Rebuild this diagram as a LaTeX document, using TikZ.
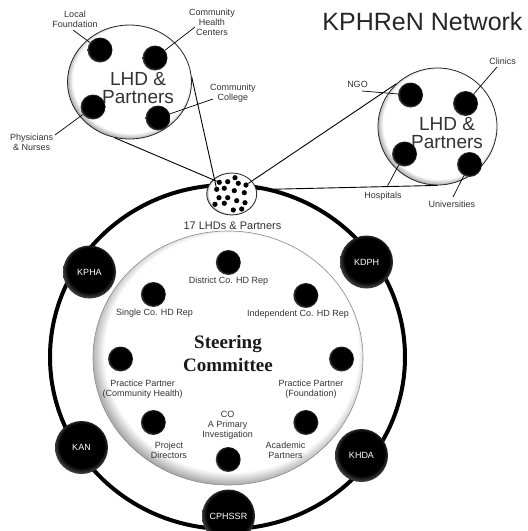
\documentclass[tikz,border=0pt]{standalone}
\usepackage{fontspec}
\setmainfont{Liberation Sans}
\newfontfamily\serifbf{Liberation Serif}
\usetikzlibrary{shapes.geometric}
\pgfdeclareradialshading{rimshade}{\pgfpoint{1.2bp}{2bp}}{color(0bp)=(white); color(23.5bp)=(white); color(25.5bp)=(black!28); color(27.5bp)=(black!55); color(50bp)=(black!55)}
\pgfdeclareradialshading{dotshade}{\pgfpoint{0.5bp}{3bp}}{color(0bp)=(black); color(21bp)=(black); color(25bp)=(black!78); color(28bp)=(black!70); color(50bp)=(black!70)}
\definecolor{txt}{HTML}{333333}
\begin{document}
\begin{tikzpicture}[x=1pt,y=-1pt,
 bigcirc/.style={ellipse, draw=black!85, line width=0.8pt, shading=rimshade, inner sep=0pt},
 dot/.style={circle, shading=dotshade, minimum size=25pt, inner sep=0pt},
 hub/.style={circle, shading=dotshade, minimum size=53pt, inner sep=0pt, text=white, font=\fontsize{9}{10}\selectfont},
 sdot/.style={circle, fill=black, minimum size=5.2pt, inner sep=0pt},
 lbl/.style={text=txt, font=\fontsize{9}{10}\selectfont, align=center, inner sep=0pt},
 lead/.style={black, line width=0.7pt},
 conn/.style={black, line width=0.9pt},
 bigtxt/.style={text=txt, font=\fontsize{19}{17.5}\selectfont, align=center, inner sep=0pt}]
\useasboundingbox (0,0) rectangle (528,531);
\fill[white] (0,0) rectangle (528,531);

% title
\node[text=black!85, font=\fontsize{25}{28}\selectfont, inner sep=0pt] (title) at (422.5,22) {KPHReN Network};

% outer ring and steering committee
\node[ellipse, draw, line width=4pt, minimum width=355pt, minimum height=344pt, inner sep=0pt] (ring) at (227.5,357) {};
\node[bigcirc, draw=black!45, line width=0.6pt, minimum width=270pt, minimum height=254pt] (steer) at (228,358) {};
\node[text=black!90, font=\serifbf\bfseries\fontsize{19}{23}\selectfont, align=center, inner sep=0pt] (steertxt) at (228,353) {Steering\\Committee};

% LHD circles
\node[bigcirc, minimum width=124pt, minimum height=114pt] (lhdL) at (129.5,82) {};
\node[bigtxt] (lhdLt) at (138,88) {LHD \&\\Partners};
\node[bigcirc, minimum width=119pt, minimum height=117pt] (lhdR) at (437.5,126.5) {};
\node[bigtxt] (lhdRt) at (447,133) {LHD \&\\Partners};

% small network circle
\node[bigcirc, minimum width=50pt, minimum height=42pt] (net) at (231.7,194) {};
\foreach \i/\p in {1/{(219.3,182.3)},2/{(227.7,181.7)},3/{(235,177.7)},4/{(238.3,183.3)},5/{(246,185)},6/{(216.7,189.3)},7/{(224.3,188.3)},8/{(234.3,190.7)},9/{(244.3,192.7)},10/{(219,197.7)},11/{(227.7,197.7)},12/{(236.7,200.7)},13/{(245,202.7)},14/{(215,204.3)},15/{(224.3,203.3)},16/{(233.3,210)},17/{(241.7,209)}}
  \node[sdot] (s\i) at \p {};
\node[text=txt, font=\fontsize{11}{12}\selectfont, inner sep=0pt] (netlbl) at (232.5,226) {17 LHDs \& Partners};

% connectors LHD circles -> network circle
\draw[conn] (lhdL.5) -- (s6);
\draw[conn] (lhdL.255) -- (s1);
\draw[conn] (lhdR.134) -- (s5);
\draw[conn] (lhdR.270) -- (net.10);

% left LHD partners
\node[dot] (dLF) at (100,50) {};
\node[dot] (dCHC) at (155,58) {};
\node[dot] (dPh) at (93,107) {};
\node[dot] (dCC) at (158,118) {};
\node[lbl] (tLF) at (75,19) {Local\\Foundation};
\node[lbl] (tCHC) at (212,22) {Community\\Health\\Centers};
\node[lbl] (tCC) at (233,93) {Community\\College};
\node[lbl] (tPh) at (31.7,142) {Physicians\\\& Nurses};
\coordinate (cLF) at (73,30);
\coordinate (cCHC) at (195,27);
\coordinate (cCC) at (213,99);
\coordinate (cPh) at (55,135);
\draw[lead] (cLF) -- (dLF);
\draw[lead] (cCHC) -- (dCHC);
\draw[lead] (cCC) -- (dCC);
\draw[lead] (cPh) -- (dPh);

% right LHD partners
\node[dot] (dNGO) at (410.5,95) {};
\node[dot] (dCl) at (465.5,103.5) {};
\node[dot] (dHo) at (404.5,154) {};
\node[dot] (dUn) at (469.5,164.5) {};
\node[lbl] (tNGO) at (357.5,84) {NGO};
\node[lbl] (tCl) at (502.7,61) {Clinics};
\node[lbl] (tHo) at (383,196) {Hospitals};
\node[lbl] (tUn) at (452,204.3) {Universities};
\coordinate (cNGO) at (362,91);
\coordinate (cCl) at (497,67);
\coordinate (cHo) at (387,187);
\coordinate (cUn) at (453,197);
\draw[lead] (cNGO) -- (dNGO);
\draw[lead] (cCl) -- (dCl);
\draw[lead] (cHo) -- (dHo);
\draw[lead] (cUn) -- (dUn);

% steering committee members
\node[dot] (dDist) at (228.3,262.5) {};
\node[dot] (dSing) at (153.3,294.5) {};
\node[dot] (dInd) at (305.8,295.5) {};
\node[dot] (dPPC) at (120.5,359) {};
\node[dot] (dPPF) at (341.5,359) {};
\node[dot] (dProj) at (153.3,422.5) {};
\node[dot] (dAcad) at (305.8,422.5) {};
\node[dot] (dCO) at (228.2,459.5) {};
\node[lbl] (tDist) at (228.5,281) {District Co. HD Rep};
\node[lbl] (tSing) at (154.5,313) {Single Co. HD Rep};
\node[lbl] (tInd) at (298,314) {Independent Co. HD Rep};
\node[lbl] (tPPC) at (142.6,389) {Practice Partner\\(Community Health)};
\node[lbl] (tPPF) at (311,389) {Practice Partner\\(Foundation)};
\node[lbl] (tCO) at (227.7,425) {CO\\A Primary\\Investigation};
\node[lbl] (tProj) at (169,450) {Project\\Directors};
\node[lbl] (tAcad) at (285.5,450) {Academic\\Partners};

% ring members
\node[hub] (kpha) at (89.5,272) {KPHA};
\node[hub] (kdph) at (366.5,262) {KDPH};
\node[hub] (kan) at (81.5,447.5) {KAN};
\node[hub] (khda) at (361.5,455.5) {KHDA};
\node[hub] (cphssr) at (228.5,516) {CPHSSR};
\end{tikzpicture}
\end{document}
